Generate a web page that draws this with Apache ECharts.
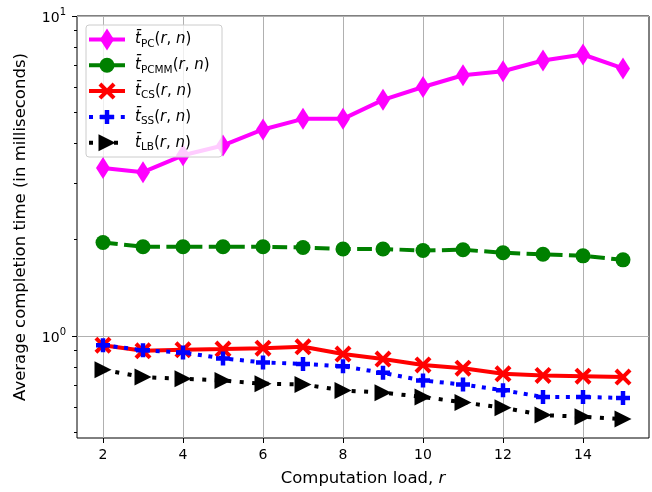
<!DOCTYPE html>
<html><head><meta charset="utf-8">
<script src="https://cdn.jsdelivr.net/npm/echarts@6/dist/echarts.min.js"></script>
<style>html,body{margin:0;padding:0;background:#fff}#c{width:652px;height:492px}</style>
</head><body><div id="c"></div>
<script>
// ---- data ----
const r = [2,3,4,5,6,7,8,9,10,11,12,13,14,15];
const tPC   = [3.35,3.25,3.67,3.94,4.42,4.77,4.77,5.47,6.00,6.53,6.72,7.26,7.58,6.86];
const tPCMM = [1.96,1.90,1.90,1.90,1.90,1.89,1.87,1.87,1.85,1.86,1.82,1.80,1.78,1.73];
const tCS   = [0.936,0.899,0.905,0.910,0.916,0.925,0.878,0.847,0.812,0.793,0.762,0.753,0.749,0.744];
const tSS   = [0.936,0.903,0.888,0.851,0.827,0.818,0.804,0.767,0.726,0.705,0.677,0.645,0.645,0.640];
const tLB   = [0.785,0.744,0.735,0.726,0.709,0.706,0.676,0.665,0.645,0.620,0.597,0.566,0.559,0.550];
const xTicks = [2,4,6,8,10,12,14];
const yMajor = [1,10];
const yMinor = [0.5,0.6,0.7,0.8,0.9,2,3,4,5,6,7,8,9];
const subs = ['PC','PCMM','CS','SS','LB'];
const xTitle = 'Computation load, ';
const yTitle = 'Average completion time (in milliseconds)';

// ---- styles ----
const FONT = 'DejaVu Sans';
const X_PATH = 'path://M0,17L17,0L50,33L83,0L100,17L67,50L100,83L83,100L50,67L17,100L0,83L33,50Z';
const PLUS_PATH = 'path://M34,0H66V34H100V66H66V100H34V66H0V34H34Z';
const TRI_PATH = 'path://M0,0L100,50L0,100Z';
const styles = [
  {color:'#ff00ff', symbol:'diamond', size:[14,22], dash:null},
  {color:'#008000', symbol:'circle', size:15, dash:[14.8,6.4]},
  {color:'#ff0000', symbol:X_PATH, size:17, dash:null},
  {color:'#0000ff', symbol:PLUS_PATH, size:14, dash:[4,6.6]},
  {color:'#000000', symbol:TRI_PATH, size:17, dash:[4,8.5]}
];
const values = [tPC,tPCMM,tCS,tSS,tLB];

const chart = echarts.init(document.getElementById('c'), null, {renderer:'canvas'});
const series = values.map((arr,k)=>({
  name: subs[k], type:'line', xAxisIndex:0, yAxisIndex:0,
  data: r.map((x,i)=>[x, arr[i]]),
  symbol: styles[k].symbol, symbolSize: styles[k].size, showSymbol:true,
  lineStyle:{color:styles[k].color, width:4, type: styles[k].dash || 'solid', cap:'butt'},
  itemStyle:{color:styles[k].color, borderWidth:0},
  clip:false, z: 2+k, animation:false
}));

chart.setOption({
  animation:false,
  backgroundColor:'#fff',
  grid:{left:77, right:3, top:16, bottom:49, show:true, borderColor:'#000', borderWidth:1, backgroundColor:'transparent'},
  xAxis:{type:'value', min:1.35, max:15.65,
    axisLine:{show:false},
    axisTick:{show:true, customValues:xTicks, length:5, lineStyle:{color:'#000', width:1}},
    axisLabel:{customValues:xTicks, fontSize:14, color:'#000', fontFamily:FONT, margin:10},
    splitLine:{show:true, lineStyle:{color:'#b0b0b0', width:1}},
    name: xTitle + '{i|r}', nameLocation:'middle', nameGap:32,
    nameTextStyle:{fontSize:16.5, color:'#000', fontFamily:FONT, rich:{i:{fontSize:16.5, fontStyle:'italic', fontFamily:FONT, color:'#000'}}}
  },
  yAxis:[
    {type:'log', logBase:10, min:0.48, max:10,
     axisLine:{show:false},
     axisTick:{show:true, customValues:yMajor, length:5, lineStyle:{color:'#000', width:1}},
     axisLabel:{customValues:yMajor, margin:11, color:'#000',
       formatter:(v)=>'{b|10}{s|' + Math.round(Math.log10(v)) + '}',
       rich:{b:{fontSize:14, fontFamily:FONT, color:'#000', lineHeight:18, verticalAlign:'bottom'},
             s:{fontSize:10, fontFamily:FONT, color:'#000', lineHeight:10, verticalAlign:'top'}}},
     splitLine:{show:true, lineStyle:{color:'#b0b0b0', width:1}},
     name: yTitle, nameLocation:'middle', nameGap:48,
     nameTextStyle:{fontSize:16.5, color:'#000', fontFamily:FONT}
    },
    {type:'log', logBase:10, min:0.48, max:10, position:'left',
     axisLine:{show:false},
     axisTick:{show:true, customValues:yMinor, length:3, lineStyle:{color:'#000', width:1}},
     axisLabel:{show:false}, splitLine:{show:false}
    }
  ],
  series: series
});

// ---- legend (drawn as graphic, matplotlib style) ----
const lg = [];
const L = {x:86, y:25, w:136, h:132};
lg.push({type:'rect', shape:{x:L.x, y:L.y, width:L.w, height:L.h, r:3},
  style:{fill:'rgba(255,255,255,0.8)', stroke:'#cccccc', lineWidth:1}, z:100});
function markerShape(k, cx, cy){
  const c = styles[k].color;
  if (k===0) return {type:'polygon', shape:{points:[[cx,cy-11],[cx+7,cy],[cx,cy+11],[cx-7,cy]]}, style:{fill:c}, z:102};
  if (k===1) return {type:'circle', shape:{cx:cx, cy:cy, r:7.5}, style:{fill:c}, z:102};
  const s = styles[k].size, x0 = cx - s/2, y0 = cy - s/2;
  let pts;
  if (k===2) pts = [[0,17],[17,0],[50,33],[83,0],[100,17],[67,50],[100,83],[83,100],[50,67],[17,100],[0,83],[33,50]];
  if (k===3) pts = [[34,0],[66,0],[66,34],[100,34],[100,66],[66,66],[66,100],[34,100],[34,66],[0,66],[0,34],[34,34]];
  if (k===4) pts = [[0,0],[100,50],[0,100]];
  return {type:'polygon', shape:{points:pts.map(p=>[x0+p[0]*s/100, y0+p[1]*s/100])}, style:{fill:c}, z:102};
}
subs.forEach((sub,k)=>{
  const cy = 39.5 + k*25.8;
  lg.push({type:'line', shape:{x1:89, y1:cy, x2:125, y2:cy},
    style:{stroke:styles[k].color, lineWidth:4, lineDash:styles[k].dash || null, lineCap:'butt'}, z:101});
  lg.push(markerShape(k, 107, cy));
  lg.push({type:'text', x:135, y:cy, z:103, style:{
    text:'{t|t\u0304}{s|' + sub + '}{p|(}{i|r}{p|, }{i|n}{p|)}',
    verticalAlign:'middle', align:'left', fill:'#000',
    rich:{
      t:{fontSize:15, fontStyle:'italic', fontFamily:FONT, lineHeight:20, verticalAlign:'middle'},
      i:{fontSize:15, fontStyle:'italic', fontFamily:FONT, lineHeight:20, verticalAlign:'middle'},
      p:{fontSize:15, fontFamily:FONT, lineHeight:20, verticalAlign:'middle'},
      s:{fontSize:10.5, fontFamily:FONT, lineHeight:12, verticalAlign:'bottom'}
    }}});
});
chart.setOption({graphic: lg});
</script></body></html>
